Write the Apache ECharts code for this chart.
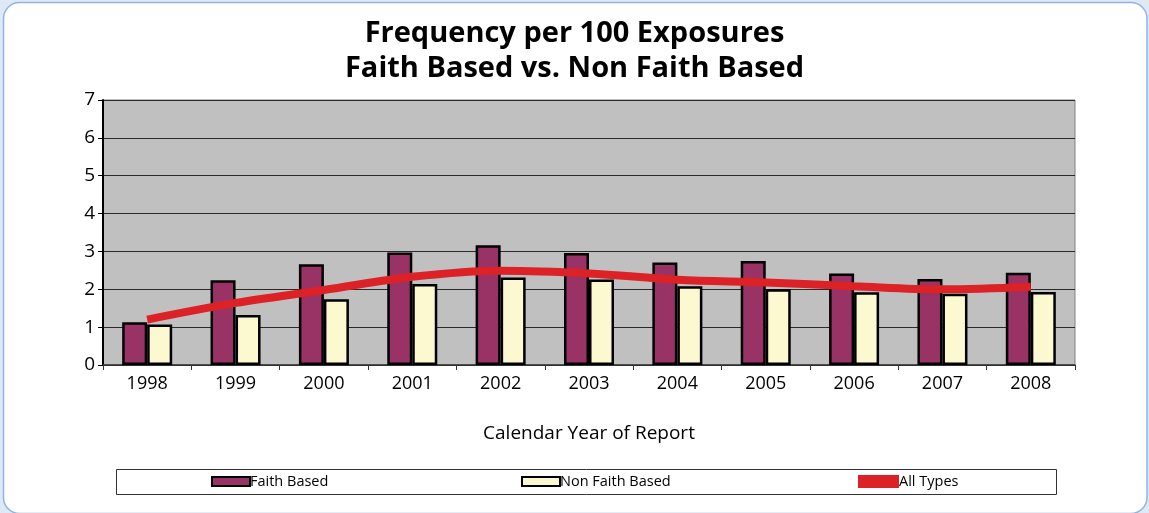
<!DOCTYPE html>
<html>
<head>
<meta charset="utf-8">
<script src="https://cdn.jsdelivr.net/npm/echarts@6/dist/echarts.min.js"></script>
<style>
  html, body { margin: 0; padding: 0; background: #DFE9F5; }
  #chart { width: 1149px; height: 513px; }
</style>
</head>
<body>
<div id="chart"></div>
<script>
// Reporting years and frequency per 100 exposures
const years = ['1998', '1999', '2000', '2001', '2002', '2003', '2004', '2005', '2006', '2007', '2008'];
const faithBased    = [1.13, 2.24, 2.66, 2.97, 3.16, 2.96, 2.71, 2.75, 2.42, 2.27, 2.44];
const nonFaithBased = [1.07, 1.32, 1.74, 2.14, 2.31, 2.26, 2.08, 2.00, 1.92, 1.88, 1.93];
const allTypes      = [1.20, 1.64, 1.98, 2.33, 2.49, 2.42, 2.25, 2.18, 2.08, 2.00, 2.07];
const yTicks = [0, 1, 2, 3, 4, 5, 6, 7];

const FONT = '"Open Sans", "Noto Sans", sans-serif';
const FAITH = '#993366';
const NONFAITH = '#FCF8D0';
const RED = '#DC2127';

const chart = echarts.init(document.getElementById('chart'), null, { renderer: 'canvas' });

const legendBase = {
  orient: 'horizontal',
  padding: 0,
  itemGap: 0,
  icon: 'rect',
  textStyle: { fontFamily: FONT, fontSize: 14.5, color: '#000', padding: [0, 0, 0, -5] },
  selectedMode: false
};

chart.setOption({
  backgroundColor: 'transparent',
  animation: false,
  graphic: [
    {
      type: 'rect', z: -10, silent: true,
      shape: { x: 3.5, y: 2.5, width: 1143.5, height: 511, r: 16 },
      style: { fill: '#FFFFFF', stroke: '#8EB4E3', lineWidth: 1.5 }
    },
    {
      type: 'rect', z: -5, silent: true,
      shape: { x: 116.5, y: 469.5, width: 940, height: 25 },
      style: { fill: '#FFFFFF', stroke: '#333333', lineWidth: 1 }
    }
  ],
  title: {
    text: 'Frequency per 100 Exposures\nFaith Based vs. Non Faith Based',
    left: 'center',
    top: 11,
    textStyle: { fontFamily: FONT, fontSize: 29, fontWeight: 'bold', color: '#000', lineHeight: 35 }
  },
  legend: [
    Object.assign({}, legendBase, {
      left: 211, top: 474, itemWidth: 38, itemHeight: 9,
      data: ['Faith Based'],
      itemStyle: { color: FAITH, borderColor: '#000', borderWidth: 2 }
    }),
    Object.assign({}, legendBase, {
      left: 521, top: 474, itemWidth: 38, itemHeight: 9,
      data: ['Non Faith Based'],
      itemStyle: { color: NONFAITH, borderColor: '#000', borderWidth: 2 }
    }),
    Object.assign({}, legendBase, {
      left: 858, top: 474, itemWidth: 41, itemHeight: 13,
      data: ['All Types'],
      itemStyle: { color: RED, borderWidth: 0 }
    })
  ],
  grid: {
    left: 103, right: 74, top: 100, bottom: 148,
    show: true, backgroundColor: '#C0C0C0', borderColor: '#808080', borderWidth: 1
  },
  xAxis: {
    type: 'category',
    data: years,
    name: 'Calendar Year of Report',
    nameLocation: 'middle',
    nameGap: 59,
    nameTextStyle: { fontFamily: FONT, fontSize: 19, color: '#000' },
    axisLine: { lineStyle: { color: '#333', width: 1.5 } },
    axisTick: { show: true, alignWithLabel: false, length: 5, lineStyle: { color: '#333' } },
    axisLabel: { fontFamily: FONT, fontSize: 18, color: '#000', margin: 10 }
  },
  yAxis: {
    type: 'value',
    min: yTicks[0],
    max: yTicks[yTicks.length - 1],
    interval: 1,
    axisLine: { show: true, lineStyle: { color: '#000', width: 2 } },
    axisTick: { show: true, length: 5, lineStyle: { color: '#000' } },
    axisLabel: { fontFamily: FONT, fontSize: 19, color: '#000', margin: 8 },
    splitLine: { show: true, lineStyle: { color: '#2A2A2A', width: 1 } }
  },
  series: [
    {
      name: 'Faith Based', type: 'bar', data: faithBased,
      barWidth: 25, barGap: '0%',
      itemStyle: { color: FAITH, borderColor: '#000', borderWidth: 2.5 }
    },
    {
      name: 'Non Faith Based', type: 'bar', data: nonFaithBased,
      barWidth: 25,
      itemStyle: { color: NONFAITH, borderColor: '#000', borderWidth: 2.5 }
    },
    {
      name: 'All Types', type: 'line', data: allTypes,
      smooth: 0.35, showSymbol: false, symbol: 'none', z: 5,
      lineStyle: { color: RED, width: 8 },
      itemStyle: { color: RED }
    }
  ]
});
</script>
</body>
</html>
